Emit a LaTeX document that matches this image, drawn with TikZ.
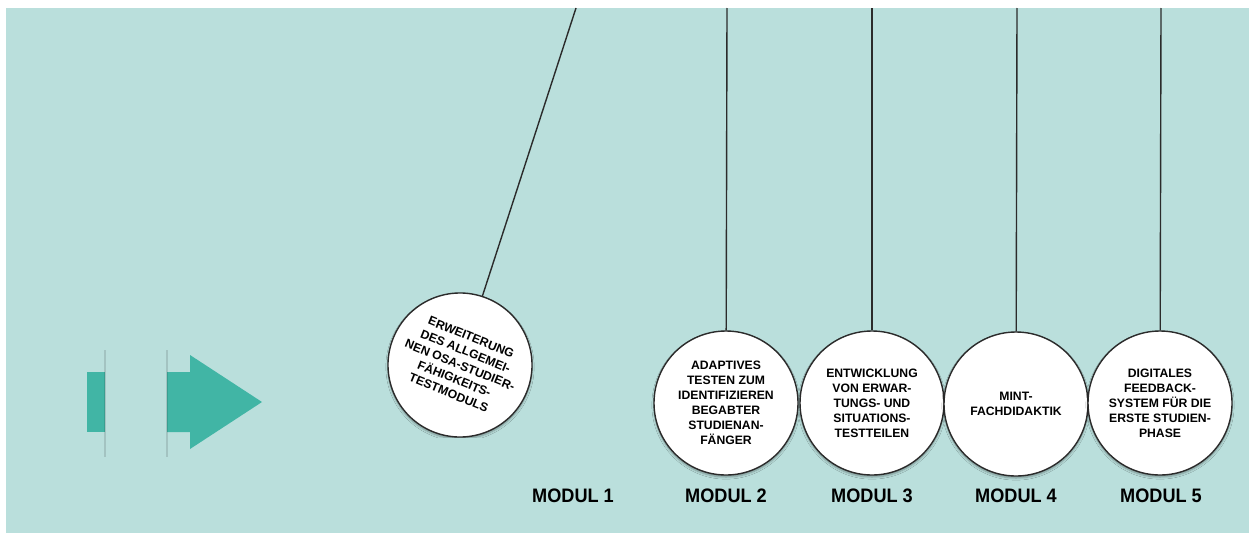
\documentclass[tikz,border=0pt]{standalone}
\usepackage{fontspec}
\setmainfont{Liberation Sans}
\newfontfamily\lab[FakeStretch=0.93]{Liberation Sans}
\usetikzlibrary{shadows.blur}
\definecolor{bg}{HTML}{BADFDC}
\definecolor{arr}{HTML}{41B5A5}
\definecolor{ink}{HTML}{2B2B2B}
\begin{document}
\begin{tikzpicture}[x=1pt,y=-1pt,
  modul/.style={circle, draw=ink, line width=1.4pt, fill=white, minimum size=144pt,
    inner sep=0pt, align=center, font=\fontsize{12.2}{15}\selectfont\bfseries,
    blur shadow={shadow xshift=0pt, shadow yshift=-2pt, shadow blur steps=6, shadow opacity=35}},
  rope/.style={draw=ink, line width=1.4pt},
  mlabel/.style={font=\lab\fontsize{19.5}{20}\selectfont\bfseries, inner sep=0pt},
  gap/.style={draw=black, opacity=0.12, line width=2.5pt}]
\useasboundingbox (0,0) rectangle (1249,533);
\fill[bg] (6,8) rectangle (1249,533);

% arrow
\fill[arr] (87,372) rectangle (105,432);
\fill[arr] (167,372) -- (190,372) -- (190,355) -- (262,402) -- (190,449) -- (190,432) -- (167,432) -- cycle;
\draw[gap] (105,350) -- (105,457);
\draw[gap] (167,350) -- (167,457);

% pivots
\coordinate (p1) at (576,8);
\coordinate (p2) at (727,8);
\coordinate (p3) at (872,8);
\coordinate (p4) at (1017,8);
\coordinate (p5) at (1161,8);

% circles
\node[modul, rotate=-22] (m1) at (460,365) {ERWEITERUNG\\DES ALLGEMEI-\\NEN OSA-STUDIER-\\FÄHIGKEITS-\\TESTMODULS};
\node[modul] (m2) at (726,403) {ADAPTIVES\\TESTEN ZUM\\IDENTIFIZIEREN\\BEGABTER\\STUDIENAN-\\FÄNGER};
\node[modul] (m3) at (872,403) {ENTWICKLUNG\\VON ERWAR-\\TUNGS- UND\\SITUATIONS-\\TESTTEILEN};
\node[modul] (m4) at (1016,404) {MINT-\\FACHDIDAKTIK};
\node[modul] (m5) at (1160,403) {DIGITALES\\FEEDBACK-\\SYSTEM FÜR DIE\\ERSTE STUDIEN-\\PHASE};

% ropes
\draw[rope] (p1) -- (m1);
\draw[rope] (p2) -- (m2);
\draw[rope] (p3) -- (m3);
\draw[rope] (p4) -- (m4);
\draw[rope] (p5) -- (m5);

% labels
\node[mlabel] (l1) at (573,496) {MODUL 1};
\node[mlabel] (l2) at (726,496) {MODUL 2};
\node[mlabel] (l3) at (872,496) {MODUL 3};
\node[mlabel] (l4) at (1016,496) {MODUL 4};
\node[mlabel] (l5) at (1161,496) {MODUL 5};
\end{tikzpicture}
\end{document}
